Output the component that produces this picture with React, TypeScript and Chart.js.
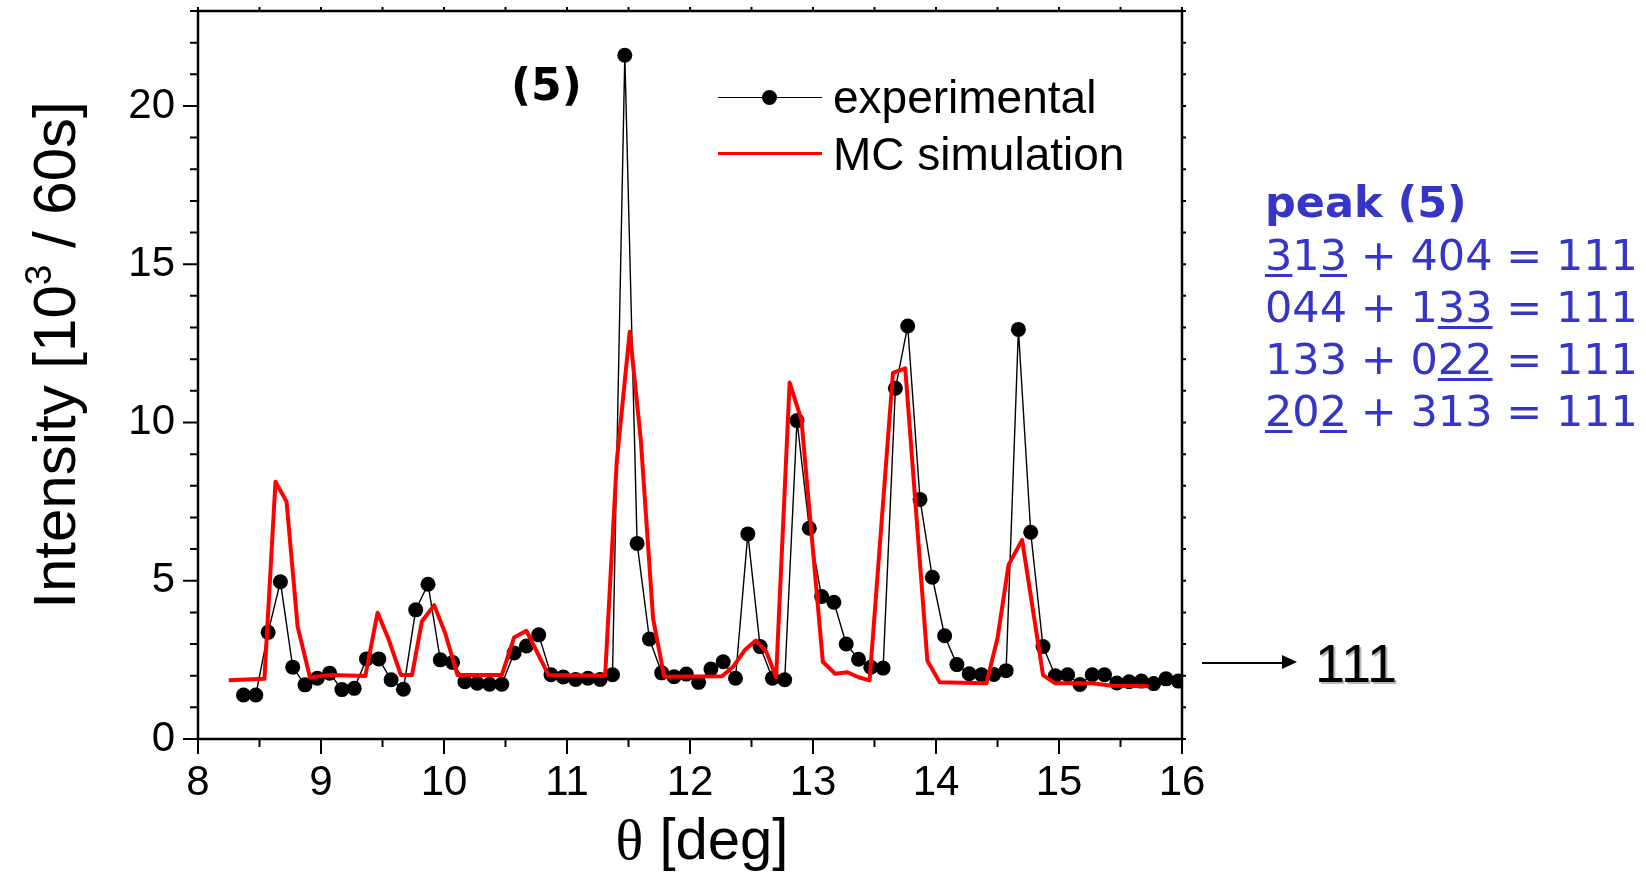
import React, { useEffect, useRef } from "react";
import { Chart, registerables } from "chart.js";

Chart.register(...registerables);

// ---------- data ----------
const EXP_THETA = [
  8.37, 8.47, 8.57, 8.67, 8.77, 8.87, 8.97, 9.07, 9.17, 9.27, 9.37, 9.47, 9.57, 9.67, 9.77, 9.87,
  9.97, 10.07, 10.17, 10.27, 10.37, 10.47, 10.57, 10.67, 10.77, 10.87, 10.97, 11.07, 11.17, 11.27,
  11.37, 11.47, 11.57, 11.67, 11.77, 11.87, 11.97, 12.07, 12.17, 12.27, 12.37, 12.47, 12.57, 12.67,
  12.77, 12.87, 12.97, 13.07, 13.17, 13.27, 13.37, 13.47, 13.57, 13.67, 13.77, 13.87, 13.97, 14.07,
  14.17, 14.27, 14.37, 14.47, 14.57, 14.67, 14.77, 14.87, 14.97, 15.07, 15.17, 15.27, 15.37, 15.47,
  15.57, 15.67, 15.77, 15.87, 15.97,
];
const EXP_INTENSITY = [
  1.39, 1.39, 3.37, 4.97, 2.27, 1.71, 1.92, 2.08, 1.56, 1.6, 2.53, 2.53, 1.87, 1.57, 4.08, 4.89,
  2.5, 2.42, 1.81, 1.76, 1.73, 1.73, 2.72, 2.94, 3.29, 2.03, 1.96, 1.88, 1.92, 1.88,
  2.03, 21.6, 6.18, 3.16, 2.09, 1.97, 2.05, 1.79, 2.21, 2.44, 1.92, 6.48, 2.92, 1.92,
  1.87, 10.06, 6.66, 4.5, 4.32, 3.0, 2.52, 2.27, 2.24, 11.08, 13.05, 7.57, 5.11, 3.26,
  2.35, 2.06, 2.03, 2.04, 2.16, 12.94, 6.53, 2.92, 2.0, 2.03, 1.72, 2.03, 2.03, 1.77,
  1.81, 1.83, 1.75, 1.9, 1.83,
];

const SIM_THETA = [
  8.25, 8.54, 8.63, 8.72, 8.81, 8.91, 9.09, 9.36, 9.46, 9.55, 9.65, 9.74, 9.82, 9.92, 10.01, 10.11,
  10.47, 10.57, 10.67, 10.85, 11.31, 11.405, 11.51, 11.6, 11.7, 11.79, 12.26, 12.35, 12.45, 12.535,
  12.62, 12.7, 12.81, 12.906, 13.08, 13.18, 13.28, 13.37, 13.46, 13.65, 13.75, 13.93, 14.03, 14.41,
  14.5, 14.59, 14.7, 14.87, 14.97, 15.27, 15.43, 15.73,
];
const SIM_INTENSITY = [
  1.86, 1.9, 8.13, 7.5, 3.55, 1.95, 2.02, 1.99, 3.99, 3.15, 2.02, 2.02, 3.71, 4.23, 3.34, 2.02,
  2.02, 3.21, 3.42, 2.02, 2.0, 8.8, 12.87, 9.45, 3.8, 1.97, 1.98, 2.28, 2.83, 3.11,
  2.76, 1.95, 11.26, 10.08, 2.44, 2.06, 2.11, 1.95, 1.85, 11.57, 11.71, 2.47, 1.79, 1.76,
  3.18, 5.5, 6.29, 2.02, 1.76, 1.76, 1.68, 1.67,
];

const X_TICKS = [8, 9, 10, 11, 12, 13, 14, 15, 16];
const Y_TICKS = [0, 5, 10, 15, 20];
const X_RANGE = [8, 16];
const Y_RANGE = [0, 23];

const X_TITLE_THETA = "θ";
const X_TITLE_REST = " [deg]";
const Y_TITLE_PARTS = ["Intensity [10", "3", " / 60s]"];

const LEGEND_EXP = "experimental";
const LEGEND_SIM = "MC simulation";
const PEAK_LABEL = "(5)";
const REFLEX_LABEL = "111";

// each line: list of [text, underlined]
const PEAK_TITLE = "peak (5)";
const PEAK_LINES: [string, boolean][][] = [
  [["3", true], ["1", false], ["3", true], [" + 404 = 111", false]],
  [["044 + 1", false], ["33", true], [" = 111", false]],
  [["133 + 0", false], ["22", true], [" = 111", false]],
  [["2", true], ["0", false], ["2", true], [" + 313 = 111", false]],
];

const SANS = '"Liberation Sans", Arial, Helvetica, sans-serif';
const VERD = '"DejaVu Sans", Verdana, sans-serif';
const BLUE = "#3535c8";

const framePlugin = {
  id: "frameAndTitles",
  afterDatasetsDraw(chart: any) {
    const { ctx, chartArea } = chart;
    const { left, right, top, bottom } = chartArea;
    const xs = chart.scales.x;
    const ys = chart.scales.y;
    ctx.save();
    ctx.strokeStyle = "#000";
    ctx.lineWidth = 2;
    ctx.beginPath();
    for (let v = X_RANGE[0]; v <= X_RANGE[1] + 1e-9; v += 0.5) {
      const px = xs.getPixelForValue(v);
      const major = Math.abs(v - Math.round(v)) < 1e-6;
      ctx.moveTo(px, bottom);
      ctx.lineTo(px, bottom + (major ? 15 : 8));
      ctx.moveTo(px, top);
      ctx.lineTo(px, top - 4);
    }
    for (let v = Y_RANGE[0]; v <= Y_RANGE[1] + 1e-9; v += 1) {
      const py = ys.getPixelForValue(v);
      const major = v % 5 === 0;
      ctx.moveTo(left, py);
      ctx.lineTo(left - (major ? 15 : 8), py);
      ctx.moveTo(right, py);
      ctx.lineTo(right + 4, py);
    }
    ctx.stroke();
    ctx.lineWidth = 2.5;
    ctx.strokeRect(left, top, right - left, bottom - top);

    // x title
    ctx.fillStyle = "#000";
    ctx.textAlign = "left";
    ctx.textBaseline = "alphabetic";
    const thetaFont = '58px "Liberation Serif", serif';
    const restFont = "58px " + SANS;
    ctx.font = thetaFont;
    const w1 = ctx.measureText(X_TITLE_THETA).width;
    ctx.font = restFont;
    const w2 = ctx.measureText(X_TITLE_REST).width;
    const cx = (left + right) / 2 + 12;
    const sx = cx - (w1 + w2) / 2;
    const xTitleBase = bottom + 120;
    ctx.font = thetaFont;
    ctx.fillText(X_TITLE_THETA, sx, xTitleBase);
    ctx.font = restFont;
    ctx.fillText(X_TITLE_REST, sx + w1, xTitleBase);

    // y title (rotated)
    const big = "60px " + SANS;
    const small = "37px " + SANS;
    ctx.font = big;
    const a = ctx.measureText(Y_TITLE_PARTS[0]).width;
    const c = ctx.measureText(Y_TITLE_PARTS[2]).width;
    ctx.font = small;
    const b = ctx.measureText(Y_TITLE_PARTS[1]).width;
    const total = a + b + c;
    ctx.translate(left - 123, (top + bottom) / 2 - 20);
    ctx.rotate(-Math.PI / 2);
    let px = -total / 2;
    ctx.font = big;
    ctx.fillText(Y_TITLE_PARTS[0], px, 0);
    px += a;
    ctx.font = small;
    ctx.fillText(Y_TITLE_PARTS[1], px, -24);
    px += b;
    ctx.font = big;
    ctx.fillText(Y_TITLE_PARTS[2], px, 0);
    ctx.restore();
  },
};

export default function App() {
  const ref = useRef<HTMLCanvasElement | null>(null);

  useEffect(() => {
    if (!ref.current) return;
    const chart = new Chart(ref.current, {
      type: "line",
      data: {
        datasets: [
          {
            label: LEGEND_SIM,
            data: SIM_THETA.map((t, i) => ({ x: t, y: SIM_INTENSITY[i] })),
            borderColor: "#ff0000",
            borderWidth: 4,
            borderJoinStyle: "round",
            pointRadius: 0,
            tension: 0,
            fill: false,
          },
          {
            label: LEGEND_EXP,
            data: EXP_THETA.map((t, i) => ({ x: t, y: EXP_INTENSITY[i] })),
            borderColor: "#000000",
            borderWidth: 1.4,
            borderJoinStyle: "round",
            pointRadius: 7.5,
            pointBackgroundColor: "#000000",
            pointBorderColor: "#000000",
            pointBorderWidth: 0,
            tension: 0,
            fill: false,
          },
        ],
      },
      options: {
        animation: false,
        responsive: false,
        maintainAspectRatio: false,
        devicePixelRatio: 1,
        events: [],
        layout: { padding: { left: 0, top: 11, right: 464, bottom: 0 } },
        plugins: {
          legend: { display: false },
          tooltip: { enabled: false },
          title: { display: false },
        },
        scales: {
          x: {
            type: "linear",
            min: X_RANGE[0],
            max: X_RANGE[1],
            afterBuildTicks: (s: any) => {
              s.ticks = X_TICKS.map((v) => ({ value: v }));
            },
            afterFit: (s: any) => {
              s.height = 136;
              s.paddingLeft = 0;
              s.paddingRight = 0;
            },
            grid: { display: false, drawTicks: false },
            border: { display: false },
            ticks: {
              padding: 19,
              color: "#000",
              font: { family: SANS, size: 42 },
              autoSkip: false,
              maxRotation: 0,
            },
          },
          y: {
            type: "linear",
            min: Y_RANGE[0],
            max: Y_RANGE[1],
            afterBuildTicks: (s: any) => {
              s.ticks = Y_TICKS.map((v) => ({ value: v }));
            },
            afterFit: (s: any) => {
              s.width = 198;
              s.paddingTop = 0;
              s.paddingBottom = 0;
            },
            grid: { display: false, drawTicks: false },
            border: { display: false },
            ticks: {
              padding: 23,
              color: "#000",
              font: { family: SANS, size: 42 },
              autoSkip: false,
            },
          },
        },
      },
      plugins: [framePlugin],
    } as any);
    return () => chart.destroy();
  }, []);

  const abs = (o: React.CSSProperties): React.CSSProperties => ({ position: "absolute", ...o });

  return (
    <div
      style={{
        position: "fixed",
        left: 0,
        top: 0,
        width: 1646,
        height: 875,
        background: "#fff",
        overflow: "hidden",
      }}
    >
      <canvas ref={ref} width={1646} height={875} style={abs({ left: 0, top: 0, width: 1646, height: 875 })} />

      {/* legend */}
      <div style={abs({ left: 718, top: 96.5, width: 104, height: 1.5, background: "#000" })} />
      <div style={abs({ left: 761.5, top: 89.8, width: 15, height: 15, borderRadius: "50%", background: "#000" })} />
      <div style={abs({ left: 833, top: 73.8, fontFamily: SANS, fontSize: 46, lineHeight: "46px", color: "#000", whiteSpace: "pre" })}>
        {LEGEND_EXP}
      </div>
      <div style={abs({ left: 718, top: 151.5, width: 104, height: 3.6, background: "#ff0000" })} />
      <div style={abs({ left: 833, top: 131.1, fontFamily: SANS, fontSize: 46, lineHeight: "46px", color: "#000", whiteSpace: "pre" })}>
        {LEGEND_SIM}
      </div>

      {/* peak label */}
      <div style={abs({ left: 511, top: 62.8, fontFamily: VERD, fontWeight: "bold", fontSize: 44, lineHeight: "44px", color: "#000", whiteSpace: "pre" })}>
        {PEAK_LABEL}
      </div>

      {/* blue annotation */}
      <div style={abs({ left: 1265, top: 176.3, fontFamily: VERD, fontSize: 43, lineHeight: "52.3px", color: BLUE, whiteSpace: "pre" })}>
        <div style={{ fontWeight: "bold" }}>{PEAK_TITLE}</div>
        {PEAK_LINES.map((line, i) => (
          <div key={i}>
            {line.map(([t, u], j) =>
              u ? (
                <span
                  key={j}
                  style={{
                    textDecorationLine: "underline",
                    textDecorationThickness: "3px",
                    textUnderlineOffset: "4px",
                    textDecorationColor: BLUE,
                  }}
                >
                  {t}
                </span>
              ) : (
                <span key={j}>{t}</span>
              )
            )}
          </div>
        ))}
      </div>

      {/* arrow + 111 */}
      <div style={abs({ left: 1202, top: 662, width: 82, height: 1.6, background: "#000" })} />
      <div
        style={abs({
          left: 1282,
          top: 655.3,
          width: 0,
          height: 0,
          borderTop: "7.5px solid transparent",
          borderBottom: "7.5px solid transparent",
          borderLeft: "15px solid #000",
        })}
      />
      <div
        style={abs({
          left: 1315,
          top: 636,
          fontFamily: SANS,
          fontSize: 54,
          lineHeight: "54px",
          color: "#000",
          whiteSpace: "pre",
          textShadow: "2px 2px 1px #b5b5b5",
        })}
      >
        {REFLEX_LABEL}
      </div>
    </div>
  );
}
